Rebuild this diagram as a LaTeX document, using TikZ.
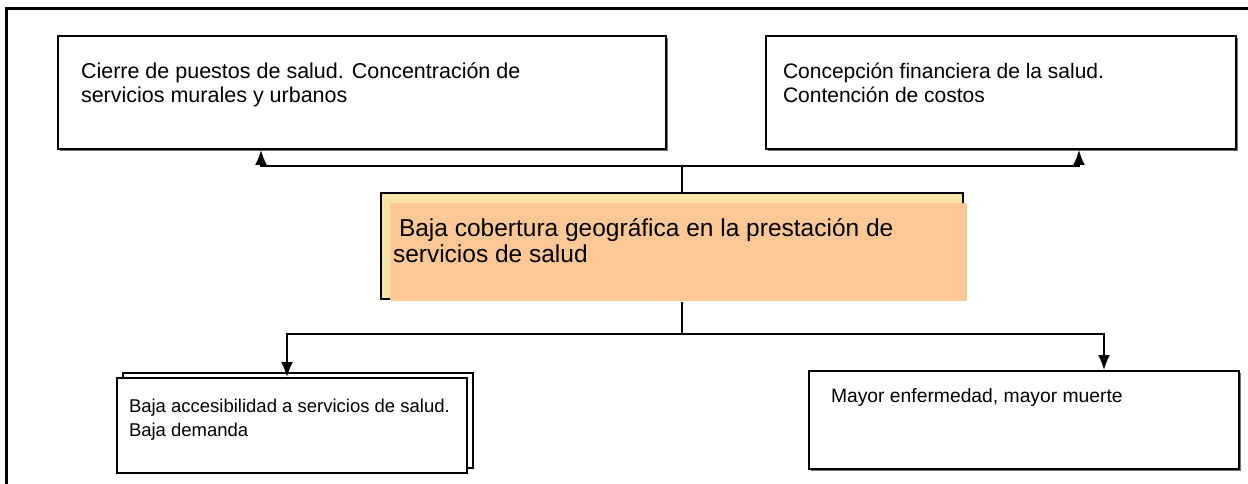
\documentclass[tikz,border=0pt]{standalone}
\usepackage{fontspec}
\setmainfont{Liberation Sans}
\usetikzlibrary{calc}
\usetikzlibrary{arrows.meta,shadows}
\definecolor{amarillo}{rgb}{0.965,0.890,0.647}
\definecolor{naranja}{rgb}{0.992,0.784,0.588}
\tikzstyle{caja}=[draw,fill=white,line width=2pt,inner sep=0pt,anchor=north west,font=\fontsize{21}{24.5}\selectfont]
\tikzstyle{sombra}=[general shadow={fill=black!55,shadow xshift=2pt,shadow yshift=-2pt}]
\newcommand{\texto}[3]{\parbox[t][#1][t]{#2}{\strut#3}}

\begin{document}
\begin{tikzpicture}[x=1pt,y=-1pt,->,>={Latex[length=15pt,width=12pt]},line width=1.8pt]
	\useasboundingbox (0,0) rectangle (1248,484);
	\draw[-,line width=3pt] (6,9) rectangle (1270,510);
	\node[caja,sombra,font=\fontsize{21.5}{24.5}\selectfont,inner xsep=23pt,inner ysep=25pt] (cierre) at (57,35)
		{\texto{63pt}{562pt}{Cierre de puestos de salud. Concentración de\\servicios murales y urbanos}};
	\node[caja,sombra,inner xsep=17pt,inner ysep=25pt] (concepcion) at (765,35)
		{\texto{63pt}{436pt}{Concepción financiera de la salud.\\Contención de costos}};
	\node[caja,fill=amarillo,minimum width=582pt,minimum height=106pt] (fondo) at (380,192) {};
	\node[caja,draw=none,fill=naranja,font=\fontsize{24.5}{24.5}\selectfont,inner xsep=3pt,inner ysep=15pt] (cobertura) at (389,202)
		{\texto{68pt}{571pt}{\hspace{6pt}Baja cobertura geográfica en la prestación de\\servicios de salud}};
	\node[caja,copy shadow={shadow xshift=6pt,shadow yshift=5pt},font=\fontsize{18.5}{24.5}\selectfont,inner xsep=12pt,inner ysep=17pt] (accesibilidad) at (116,377)
		{\texto{61pt}{326pt}{Baja accesibilidad a servicios de salud.\\Baja demanda}};
	\node[caja,sombra,font=\fontsize{19.3}{24.5}\selectfont,inner xsep=22pt,inner ysep=14pt] (mayor) at (808,370)
		{\texto{70pt}{386pt}{Mayor enfermedad, mayor muerte}};
	% puntos de quiebre
	\coordinate (kT) at (682,166);
	\coordinate (kB) at (682,334);
	\coordinate (kL) at (261,166);
	\coordinate (kR) at (1079,166);
	\coordinate (kBL) at (287,334);
	\coordinate (kBR) at (1104,334);
	\draw (kT |- fondo.north) -- (kT) -- (kL) -- (kL |- cierre.south);
	\draw (kT) -- (kR) -- (kR |- concepcion.south);
	\draw (kB |- cobertura.south) -- (kB) -- (kBL) -- (kBL |- accesibilidad.north);
	\draw (kB) -- (kBR) -- (kBR |- mayor.north);
\end{tikzpicture}
\end{document}
